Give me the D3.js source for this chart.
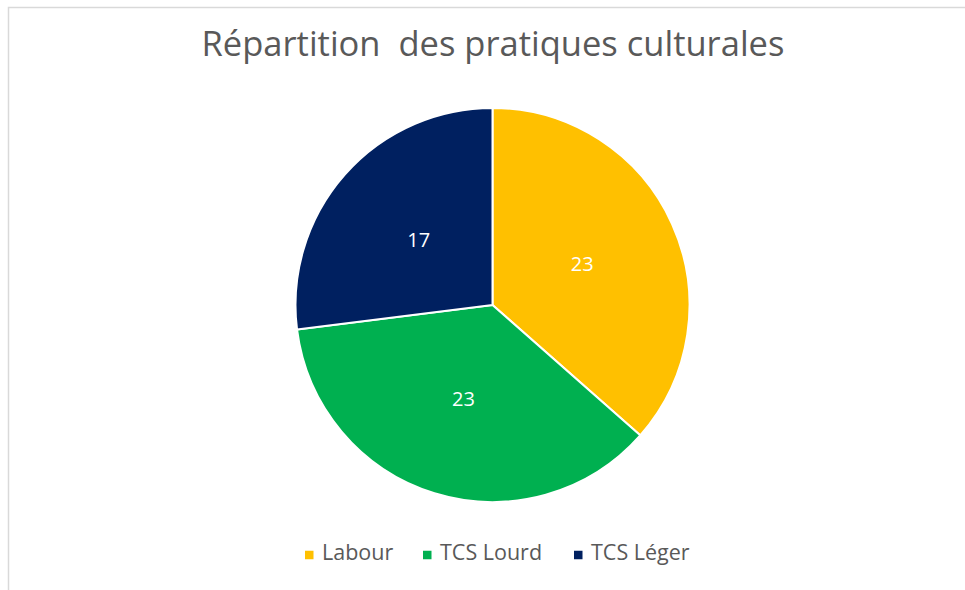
<!DOCTYPE html>
<html>
<head>
<meta charset="utf-8">
<script src="https://cdn.jsdelivr.net/npm/d3@7"></script>
<style>
  body { margin: 0; background: #fff; }
  text { font-family: "Open Sans", sans-serif; }
</style>
</head>
<body>
<svg class="chart"></svg>
<script>
// data
const categories = ["Labour", "TCS Lourd", "TCS Léger"];
const values = [23, 23, 17];
const colors = ["#ffc000", "#00b050", "#002060"];
const title = "Répartition  des pratiques culturales";

const width = 965,
      height = 590;

const svg = d3.select(".chart")
  .attr("width", width)
  .attr("height", height);

// chart frame
svg.append("rect")
  .attr("x", 8.5)
  .attr("y", 7.5)
  .attr("width", width)
  .attr("height", height)
  .attr("fill", "#fff")
  .attr("stroke", "#d9d9d9")
  .attr("stroke-width", 1.5);

// title (keep the double space)
svg.append("text")
  .attr("x", 493)
  .attr("y", 56)
  .attr("text-anchor", "middle")
  .attr("fill", "#595959")
  .attr("font-size", 34.5)
  .style("white-space", "pre")
  .text(title);

// pie
const cx = 492.5, cy = 305, r = 197;

const pie = d3.pie().sort(null).value(d => d.value);
const arcs = pie(categories.map((c, i) => ({ name: c, value: values[i], color: colors[i] })));

const arc = d3.arc().innerRadius(0).outerRadius(r);
const labelArc = d3.arc().innerRadius(r / 2).outerRadius(r / 2);

const g = svg.append("g").attr("transform", `translate(${cx},${cy})`);

g.selectAll("path")
  .data(arcs)
  .enter()
  .append("path")
    .attr("d", arc)
    .attr("fill", d => d.data.color)
    .attr("stroke", "#fff")
    .attr("stroke-width", 2)
    .attr("stroke-linejoin", "round");

g.selectAll("text.val")
  .data(arcs)
  .enter()
  .append("text")
    .attr("class", "val")
    .attr("transform", d => `translate(${labelArc.centroid(d)})`)
    .attr("text-anchor", "middle")
    .attr("dy", "0.35em")
    .attr("fill", "#fff")
    .attr("font-size", 20)
    .text(d => d.data.value);

// legend
const legendX = [305, 423, 574];
const legend = svg.append("g").attr("transform", "translate(0,555)");

const item = legend.selectAll("g")
  .data(categories)
  .enter()
  .append("g")
    .attr("transform", (d, i) => `translate(${legendX[i]},0)`);

item.append("rect")
  .attr("x", 0)
  .attr("y", -4.25)
  .attr("width", 8.5)
  .attr("height", 8.5)
  .attr("fill", (d, i) => colors[i]);

item.append("text")
  .attr("x", 17)
  .attr("y", 5)
  .attr("fill", "#595959")
  .attr("font-size", 21.5)
  .text(d => d);
</script>
</body>
</html>
